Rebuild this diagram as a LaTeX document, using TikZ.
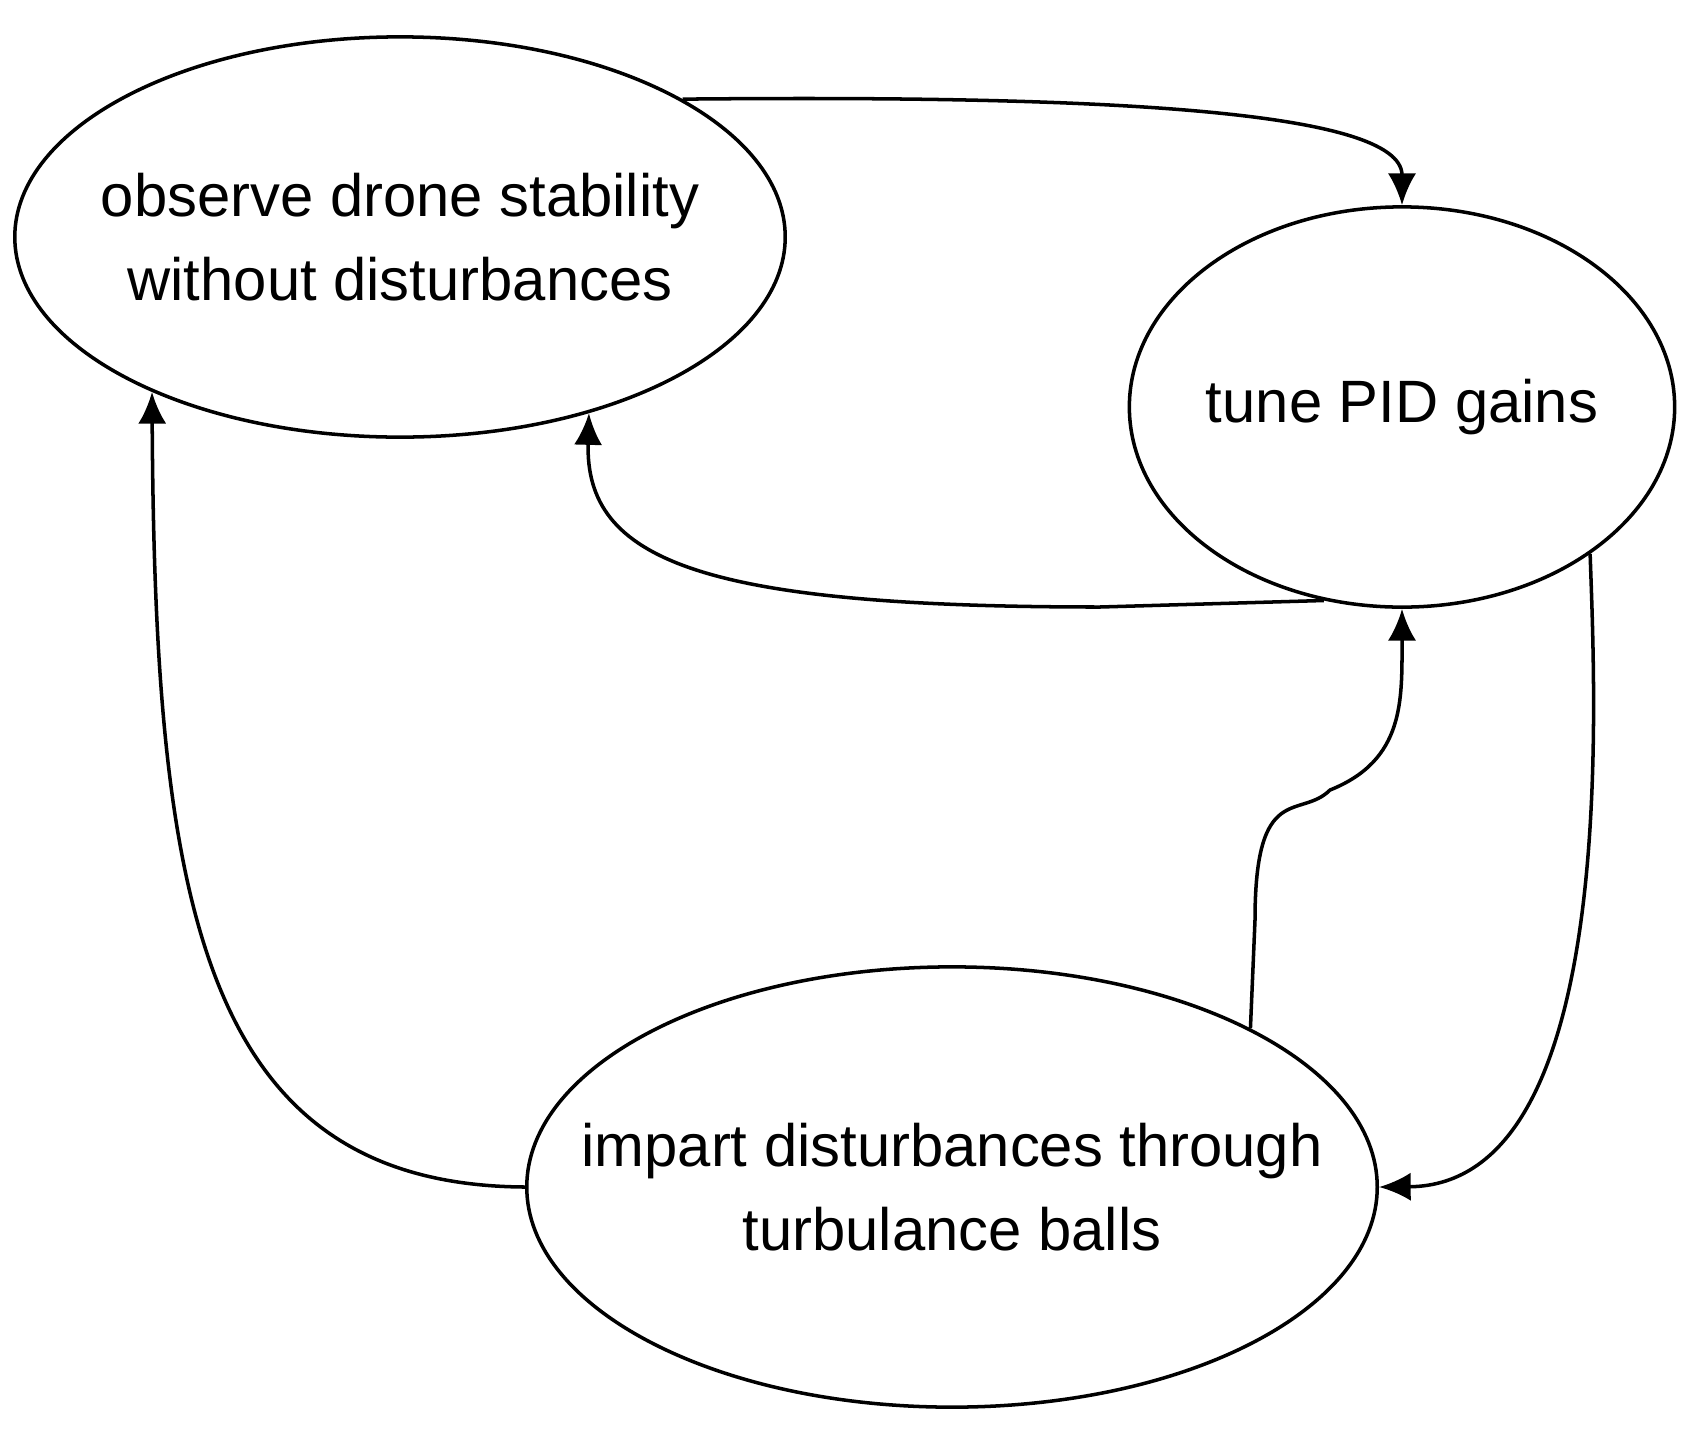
\documentclass[tikz,border=0pt]{standalone}
\usepackage{fontspec}
\setmainfont{Liberation Sans}
\usetikzlibrary{shapes.geometric,arrows.meta}
\tikzset{ %
  ,>={Latex[length=9pt,width=8pt]}
  ,task/.style={draw, ellipse, line width=1pt, inner xsep=-30pt, inner ysep=-12pt, align=center, font=\fontsize{17}{24}\selectfont}
  ,link/.style={->, line width=1pt}
}
\begin{document}
\begin{tikzpicture}[x=0.01cm, y=-0.01cm]
  \useasboundingbox (0,0) rectangle (1700,1433);
  \node[task, minimum width=7.7cm, minimum height=4cm] (obs) at (400,237) {observe drone stability\\without disturbances};
  \node[task, minimum width=5.45cm, minimum height=4cm] (tune) at (1402,407) {tune PID gains};
  \node[task, minimum width=8.5cm, minimum height=4.4cm] (imp) at (952,1187) {impart disturbances through\\turbulance balls};
  \draw[link] (obs.26) .. controls (1100,95) and (1402,110) .. (tune.north);
  \draw[link] (tune.-112) -- (1100,607) .. controls (700,607) and (585,560) .. (obs.-43);
  \draw[link] (imp.west) .. controls (200,1185) and (155,900) .. (obs.-148);
  \draw[link] (imp.28) -- (1255,920) .. controls (1255,780) and (1300,820) .. (1330,790) .. controls (1405,760) and (1402,700) .. (tune.south);
  \draw[link] (tune.-38) .. controls (1595,700) and (1620,1185) .. (imp.east);
\end{tikzpicture}
\end{document}
